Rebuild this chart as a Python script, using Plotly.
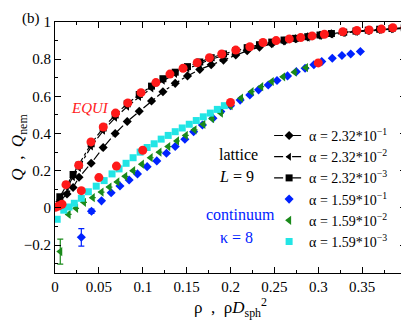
import plotly.graph_objects as go

# lattice L=9, black with dash-dot lines
lat_rho = [0.0055, 0.0137, 0.0206, 0.0274, 0.0412, 0.0549, 0.0686, 0.0823, 0.096, 0.11,
           0.123, 0.137, 0.151, 0.165, 0.178, 0.192, 0.206, 0.219, 0.233, 0.247,
           0.261, 0.274, 0.288, 0.302, 0.315, 0.329, 0.343, 0.357, 0.37, 0.384, 0.398]
lat_q_a1 = [0.035, 0.075, 0.11, 0.165, 0.24, 0.325, 0.4, 0.465, 0.52, 0.575,
            0.625, 0.67, 0.71, 0.745, 0.77, 0.795, 0.823, 0.845, 0.865, 0.883,
            0.898, 0.91, 0.92, 0.929, 0.937, 0.945, 0.95, 0.955, 0.96, 0.964, 0.968]
lat_q_a2 = [0.045, 0.11, 0.165, 0.215, 0.33, 0.415, 0.485, 0.545, 0.597, 0.643,
            0.684, 0.72, 0.75, 0.776, 0.8, 0.82, 0.838, 0.855, 0.871, 0.885,
            0.897, 0.907, 0.916, 0.925, 0.933, 0.94, 0.947, 0.952, 0.957, 0.962, 0.966]
lat_q_a3 = [0.06, 0.125, 0.18, 0.23, 0.345, 0.43, 0.5, 0.56, 0.61, 0.655,
            0.695, 0.73, 0.76, 0.785, 0.808, 0.828, 0.846, 0.862, 0.878, 0.892,
            0.903, 0.912, 0.921, 0.93, 0.938, 0.945, 0.951, 0.956, 0.961, 0.965, 0.969]

# continuum kappa=8
blue_rho = [0.030, 0.0416, 0.053, 0.064, 0.074, 0.0845, 0.094, 0.105, 0.116, 0.127,
            0.137, 0.148, 0.158, 0.168, 0.18, 0.189, 0.2, 0.211, 0.222, 0.232,
            0.243, 0.253, 0.265, 0.275, 0.285, 0.295, 0.304, 0.316, 0.327, 0.337, 0.348]
blue_q = [-0.158, -0.018, 0.038, 0.082, 0.118, 0.15, 0.183, 0.222, 0.253, 0.294,
          0.33, 0.369, 0.41, 0.446, 0.482, 0.518, 0.55, 0.58, 0.608, 0.635,
          0.661, 0.685, 0.71, 0.733, 0.751, 0.77, 0.787, 0.805, 0.82, 0.828, 0.841]
blue_err = [0.047, 0.012] + [0] * 29

green_rho = [0.006, 0.0155, 0.024, 0.033, 0.043, 0.053, 0.062, 0.071, 0.080, 0.089,
             0.099, 0.109, 0.119, 0.129, 0.139, 0.149, 0.159, 0.169, 0.179, 0.189,
             0.2, 0.212, 0.224, 0.235, 0.247, 0.26, 0.273, 0.286]
green_q = [-0.235, -0.035, -0.002, 0.03, 0.055, 0.085, 0.112, 0.14, 0.17, 0.2,
           0.235, 0.27, 0.3, 0.33, 0.36, 0.39, 0.42, 0.45, 0.48, 0.51,
           0.55, 0.59, 0.625, 0.652, 0.68, 0.705, 0.73, 0.755]
green_err = [0.067] + [0] * 27

cyan_rho = [0.0025, 0.01, 0.016, 0.022, 0.03, 0.038, 0.047, 0.056, 0.065, 0.073,
            0.081, 0.089, 0.097, 0.105, 0.113, 0.121, 0.129, 0.137, 0.145, 0.153,
            0.161, 0.169, 0.177, 0.185, 0.193]
cyan_q = [-0.061, -0.012, 0.005, 0.025, 0.052, 0.087, 0.117, 0.147, 0.183, 0.21,
          0.24, 0.27, 0.3, 0.325, 0.345, 0.37, 0.39, 0.41, 0.43, 0.45,
          0.47, 0.49, 0.51, 0.53, 0.55]

# EQUI reference points (red)
equi_lat_rho = [0.0125, 0.027, 0.041, 0.055, 0.069, 0.083, 0.098, 0.115, 0.131, 0.146,
                0.162, 0.176, 0.19, 0.206, 0.222, 0.237, 0.252, 0.267, 0.28, 0.293,
                0.307, 0.328, 0.344, 0.358, 0.372, 0.385, 0.399]
equi_lat_q = [0.125, 0.23, 0.355, 0.435, 0.51, 0.565, 0.62, 0.674, 0.72, 0.751,
              0.781, 0.808, 0.828, 0.849, 0.867, 0.89, 0.9, 0.909, 0.916, 0.925,
              0.934, 0.948, 0.954, 0.957, 0.962, 0.969, 0.971]
equi_con_rho = [0.0005, 0.004, 0.008, 0.03, 0.05, 0.07, 0.1, 0.2, 0.3]
equi_con_q = [0.003, 0.01, 0.02, 0.093, 0.163, 0.225, 0.31, 0.567, 0.78]

serif = 'Liberation Serif'
sup = lambda a, e: 'α = %s*10<sup>−%d</sup>' % (a, e)

fig = go.Figure()

for q, sym, lab in [(lat_q_a1, 'diamond', sup('2.32', 1)),
                    (lat_q_a2, 'triangle-left', sup('2.32', 2)),
                    (lat_q_a3, 'square', sup('2.32', 3))]:
    fig.add_scatter(x=lat_rho, y=q, mode='lines+markers', name=lab,
                    line=dict(color='black', width=1.2, dash='dashdot'),
                    marker=dict(symbol=sym, size=7, color='black'))

fig.add_scatter(x=blue_rho, y=blue_q, mode='markers', name=sup('1.59', 1),
                marker=dict(symbol='diamond', size=7, color='#0022ff'),
                error_y=dict(type='data', array=blue_err, color='#0022ff', thickness=1.2, width=3))
fig.add_scatter(x=green_rho, y=green_q, mode='markers', name=sup('1.59', 2),
                marker=dict(symbol='triangle-left', size=8, color='#1a8a1a'),
                error_y=dict(type='data', array=green_err, color='#1a8a1a', thickness=1.2, width=3))
fig.add_scatter(x=cyan_rho, y=cyan_q, mode='markers', name=sup('1.59', 3),
                marker=dict(symbol='square', size=7, color='#22e5e5'))

for xs, ys in [(equi_lat_rho, equi_lat_q), (equi_con_rho, equi_con_q)]:
    fig.add_scatter(x=xs, y=ys, mode='markers', showlegend=False,
                    marker=dict(symbol='circle', size=9, color='#ff1a1a'))

axis_common = dict(showline=True, linecolor='black', linewidth=1, mirror='ticks',
                   ticks='inside', ticklen=6, tickcolor='black', showgrid=False,
                   zeroline=False, tickfont=dict(family=serif, size=15, color='black'))

fig.update_xaxes(range=[0, 0.4], dtick=0.05, tickformat='~g',
                 minor=dict(ticks='inside', ticklen=3, dtick=0.025, tickcolor='black'),
                 title=dict(text='ρ  ,  ρ<i>D</i><sub>sph</sub><sup>2</sup>',
                            font=dict(family=serif, size=17, color='black'), standoff=6),
                 **axis_common)
fig.update_yaxes(range=[-0.35, 1.0], tick0=0, dtick=0.2, tickformat='~g',
                 minor=dict(ticks='inside', ticklen=3, dtick=0.1, tickcolor='black'),
                 title=dict(text='<i>Q</i>  ,  <i>Q</i><sub>nem</sub>',
                            font=dict(family=serif, size=17, color='black'), standoff=2),
                 **axis_common)

fig.add_annotation(x=0.04, y=0.54, xref='x', yref='y', text='<i>EQUI</i>', showarrow=False,
                   font=dict(family=serif, size=15, color='#ff1a1a'))
for txt, xp, yp, col in [('lattice', 0.522, 0.474, 'black'), ('<i>L</i> = 9', 0.517, 0.386, 'black'),
                         ('continuum', 0.528, 0.19, '#0022ff'), ('κ = 8', 0.517, 0.1, '#0022ff')]:
    fig.add_annotation(x=xp, y=yp, xref='paper', yref='paper', text=txt, showarrow=False,
                       font=dict(family=serif, size=16, color=col))
fig.add_annotation(x=-0.1, y=1.056, xref='paper', yref='paper', text='(b)', showarrow=False,
                   yanchor='top', font=dict(family=serif, size=15, color='black'))

# page body adds an 8px margin, so the figure is sized to fit the window
fig.update_layout(
    width=401, height=312,
    margin=dict(l=41, r=2, t=14, b=47),
    plot_bgcolor='white', paper_bgcolor='white',
    font=dict(family=serif, color='black'),
    legend=dict(x=0.61, y=0.61, xanchor='left', yanchor='top', bgcolor='rgba(0,0,0,0)',
                font=dict(family=serif, size=14), tracegroupgap=0, itemwidth=30),
)

fig.write_html('out.html')
